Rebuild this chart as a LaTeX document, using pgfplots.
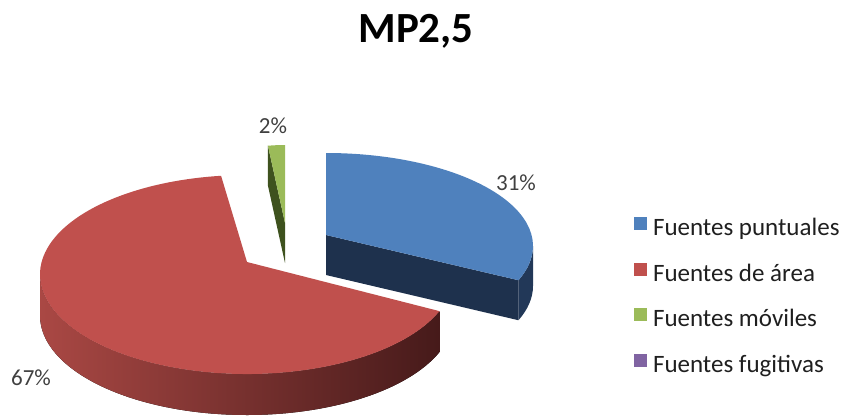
\documentclass[border=0pt]{standalone}
\usepackage{pgfplots}
\pgfplotsset{compat=1.18}
\usepackage{pgfplotstable}
\usepackage{fontspec}
\setmainfont{Carlito}

\definecolor{cBlue}{RGB}{79,129,189}
\definecolor{cBlueDark}{RGB}{30,49,77}
\definecolor{cBlueSide}{RGB}{34,56,88}
\definecolor{cRed}{RGB}{192,80,77}
\definecolor{cRedSideL}{RGB}{170,72,68}
\definecolor{cRedSideR}{RGB}{70,26,26}
\definecolor{cGreen}{RGB}{155,187,89}
\definecolor{cGreenDark}{RGB}{62,82,30}
\definecolor{cPurple}{RGB}{128,100,162}
\definecolor{cLabel}{RGB}{64,64,64}

\pgfplotstableread{
fuente valor
puntuales 31
area 67
moviles 2
fugitivas 0
}\datos

\begin{document}
\begin{tikzpicture}
% values from the table
\pgfplotstablegetelem{0}{valor}\of\datos \let\vA\pgfplotsretval
\pgfplotstablegetelem{1}{valor}\of\datos \let\vB\pgfplotsretval
\pgfplotstablegetelem{2}{valor}\of\datos \let\vC\pgfplotsretval
% slice angles (clockwise from the top)
\pgfmathsetmacro\aA{90}
\pgfmathsetmacro\aB{\aA-3.6*\vA}
\pgfmathsetmacro\aC{\aB-3.6*\vB}
\pgfmathsetmacro\aD{\aC-3.6*\vC}
% geometry (axis units = pixels)
\def\Rx{207}
% blue slice
\def\bEx{326}\def\bEy{172}\def\bAy{183}\def\bry{93}
\pgfmathsetmacro\bPx{\bEx+\Rx*cos(\aB)}
\pgfmathsetmacro\bPy{\bEy+\bry*sin(\aB)}
\pgfmathsetmacro\bRx{\bEx+\Rx}
\pgfmathsetmacro\bTy{\bEy+\bry}
\pgfmathsetmacro\bAyb{\bAy-40}
% red slice
\def\rEx{247}\def\rEy{143.5}\def\rAy{156}\def\rry{99.5}
\pgfmathsetmacro\rPx{\rEx+\Rx*cos(\aB)}
\pgfmathsetmacro\rPy{\rEy+\rry*sin(\aB)}
% green slice (seen further back: narrower)
\def\gEx{285}\def\gEy{181}\def\gAy{195}\def\gry{92}\def\gRx{136}
\pgfmathsetmacro\gPx{\gEx+\gRx*cos(\aC)}
\pgfmathsetmacro\gPy{\gEy+\gry*sin(\aC)}
\pgfmathsetmacro\gAyb{\gAy-40}

\begin{axis}[
  width=422pt, height=209pt, scale only axis,
  xmin=0, xmax=844, ymin=0, ymax=418,
  hide axis, clip=false,
  legend cell align=left,
  legend style={at={(0.7512,0.4809)}, anchor=north west,
    draw=none, fill=none, inner sep=0pt, outer sep=0pt,
    row sep=11.1pt, column sep=3pt,
    font=\fontsize{12.5}{15}\selectfont, text=black!88,
    nodes={inner sep=0pt, text height=8pt, text depth=2.5pt}},
  legend image code/.code={\fill[#1] (0pt,0pt) rectangle (6.5pt,6.5pt);},
]
\addlegendimage{fill=cBlue, draw=none}\addlegendentry{Fuentes puntuales}
\addlegendimage{fill=cRed, draw=none}\addlegendentry{Fuentes de área}
\addlegendimage{fill=cGreen, draw=none}\addlegendentry{Fuentes móviles}
\addlegendimage{fill=cPurple, draw=none}\addlegendentry{Fuentes fugitivas}

% ---- blue slice (31%)
\fill[cBlueSide] (axis cs:\bRx,\bEy) arc[start angle=0, end angle=\aB, x radius=103.5pt, y radius=46.5pt]
   -- ++(0,-20pt) arc[start angle=\aB, end angle=0, x radius=103.5pt, y radius=46.5pt] -- cycle;
\fill[cBlueDark] (axis cs:\bEx,\bAy) -- (axis cs:\bPx,\bPy) -- ++(0,-20pt) -- (axis cs:\bEx,\bAyb) -- cycle;
\fill[cBlue] (axis cs:\bEx,\bAy) -- (axis cs:\bEx,\bTy)
   arc[start angle=\aA, end angle=\aB, x radius=103.5pt, y radius=46.5pt] -- cycle;

% ---- green slice (2%)
\fill[cGreenDark] (axis cs:\gEx,\gAy) -- (axis cs:\gPx,\gPy) -- ++(0,-20pt) -- (axis cs:\gEx,\gAyb) -- cycle;
\fill[cGreen] (axis cs:\gEx,\gAy) -- (axis cs:\gPx,\gPy)
   arc[start angle=\aC, end angle=\aD, x radius=68pt, y radius=46pt] -- cycle;

% ---- red slice (67%)
\fill[left color=cRedSideL, right color=cRedSideR] (axis cs:\rPx,\rPy)
   arc[start angle=\aB, end angle=-180, x radius=103.5pt, y radius=49.75pt]
   -- ++(0,-20.5pt) arc[start angle=-180, end angle=\aB, x radius=103.5pt, y radius=49.75pt] -- cycle;
\fill[cRed] (axis cs:\rEx,\rAy) -- (axis cs:\rPx,\rPy)
   arc[start angle=\aB, end angle=\aC, x radius=103.5pt, y radius=49.75pt] -- cycle;

% ---- data labels
\node[anchor=base, text=cLabel, font=\fontsize{11.5}{13}\selectfont] at (axis cs:273,285) {\vC\%};
\node[anchor=base, text=cLabel, font=\fontsize{11.5}{13}\selectfont] at (axis cs:516,228) {\vA\%};
\node[anchor=base, text=cLabel, font=\fontsize{11.5}{13}\selectfont] at (axis cs:31,33) {\vB\%};

% ---- title
\node[anchor=base, font=\fontsize{21.5}{25}\selectfont\bfseries] at (axis cs:416,375) {MP2,5};
\end{axis}
\pgfresetboundingbox
\path[use as bounding box] (0,0) rectangle (422pt,209pt);
\end{tikzpicture}
\end{document}
